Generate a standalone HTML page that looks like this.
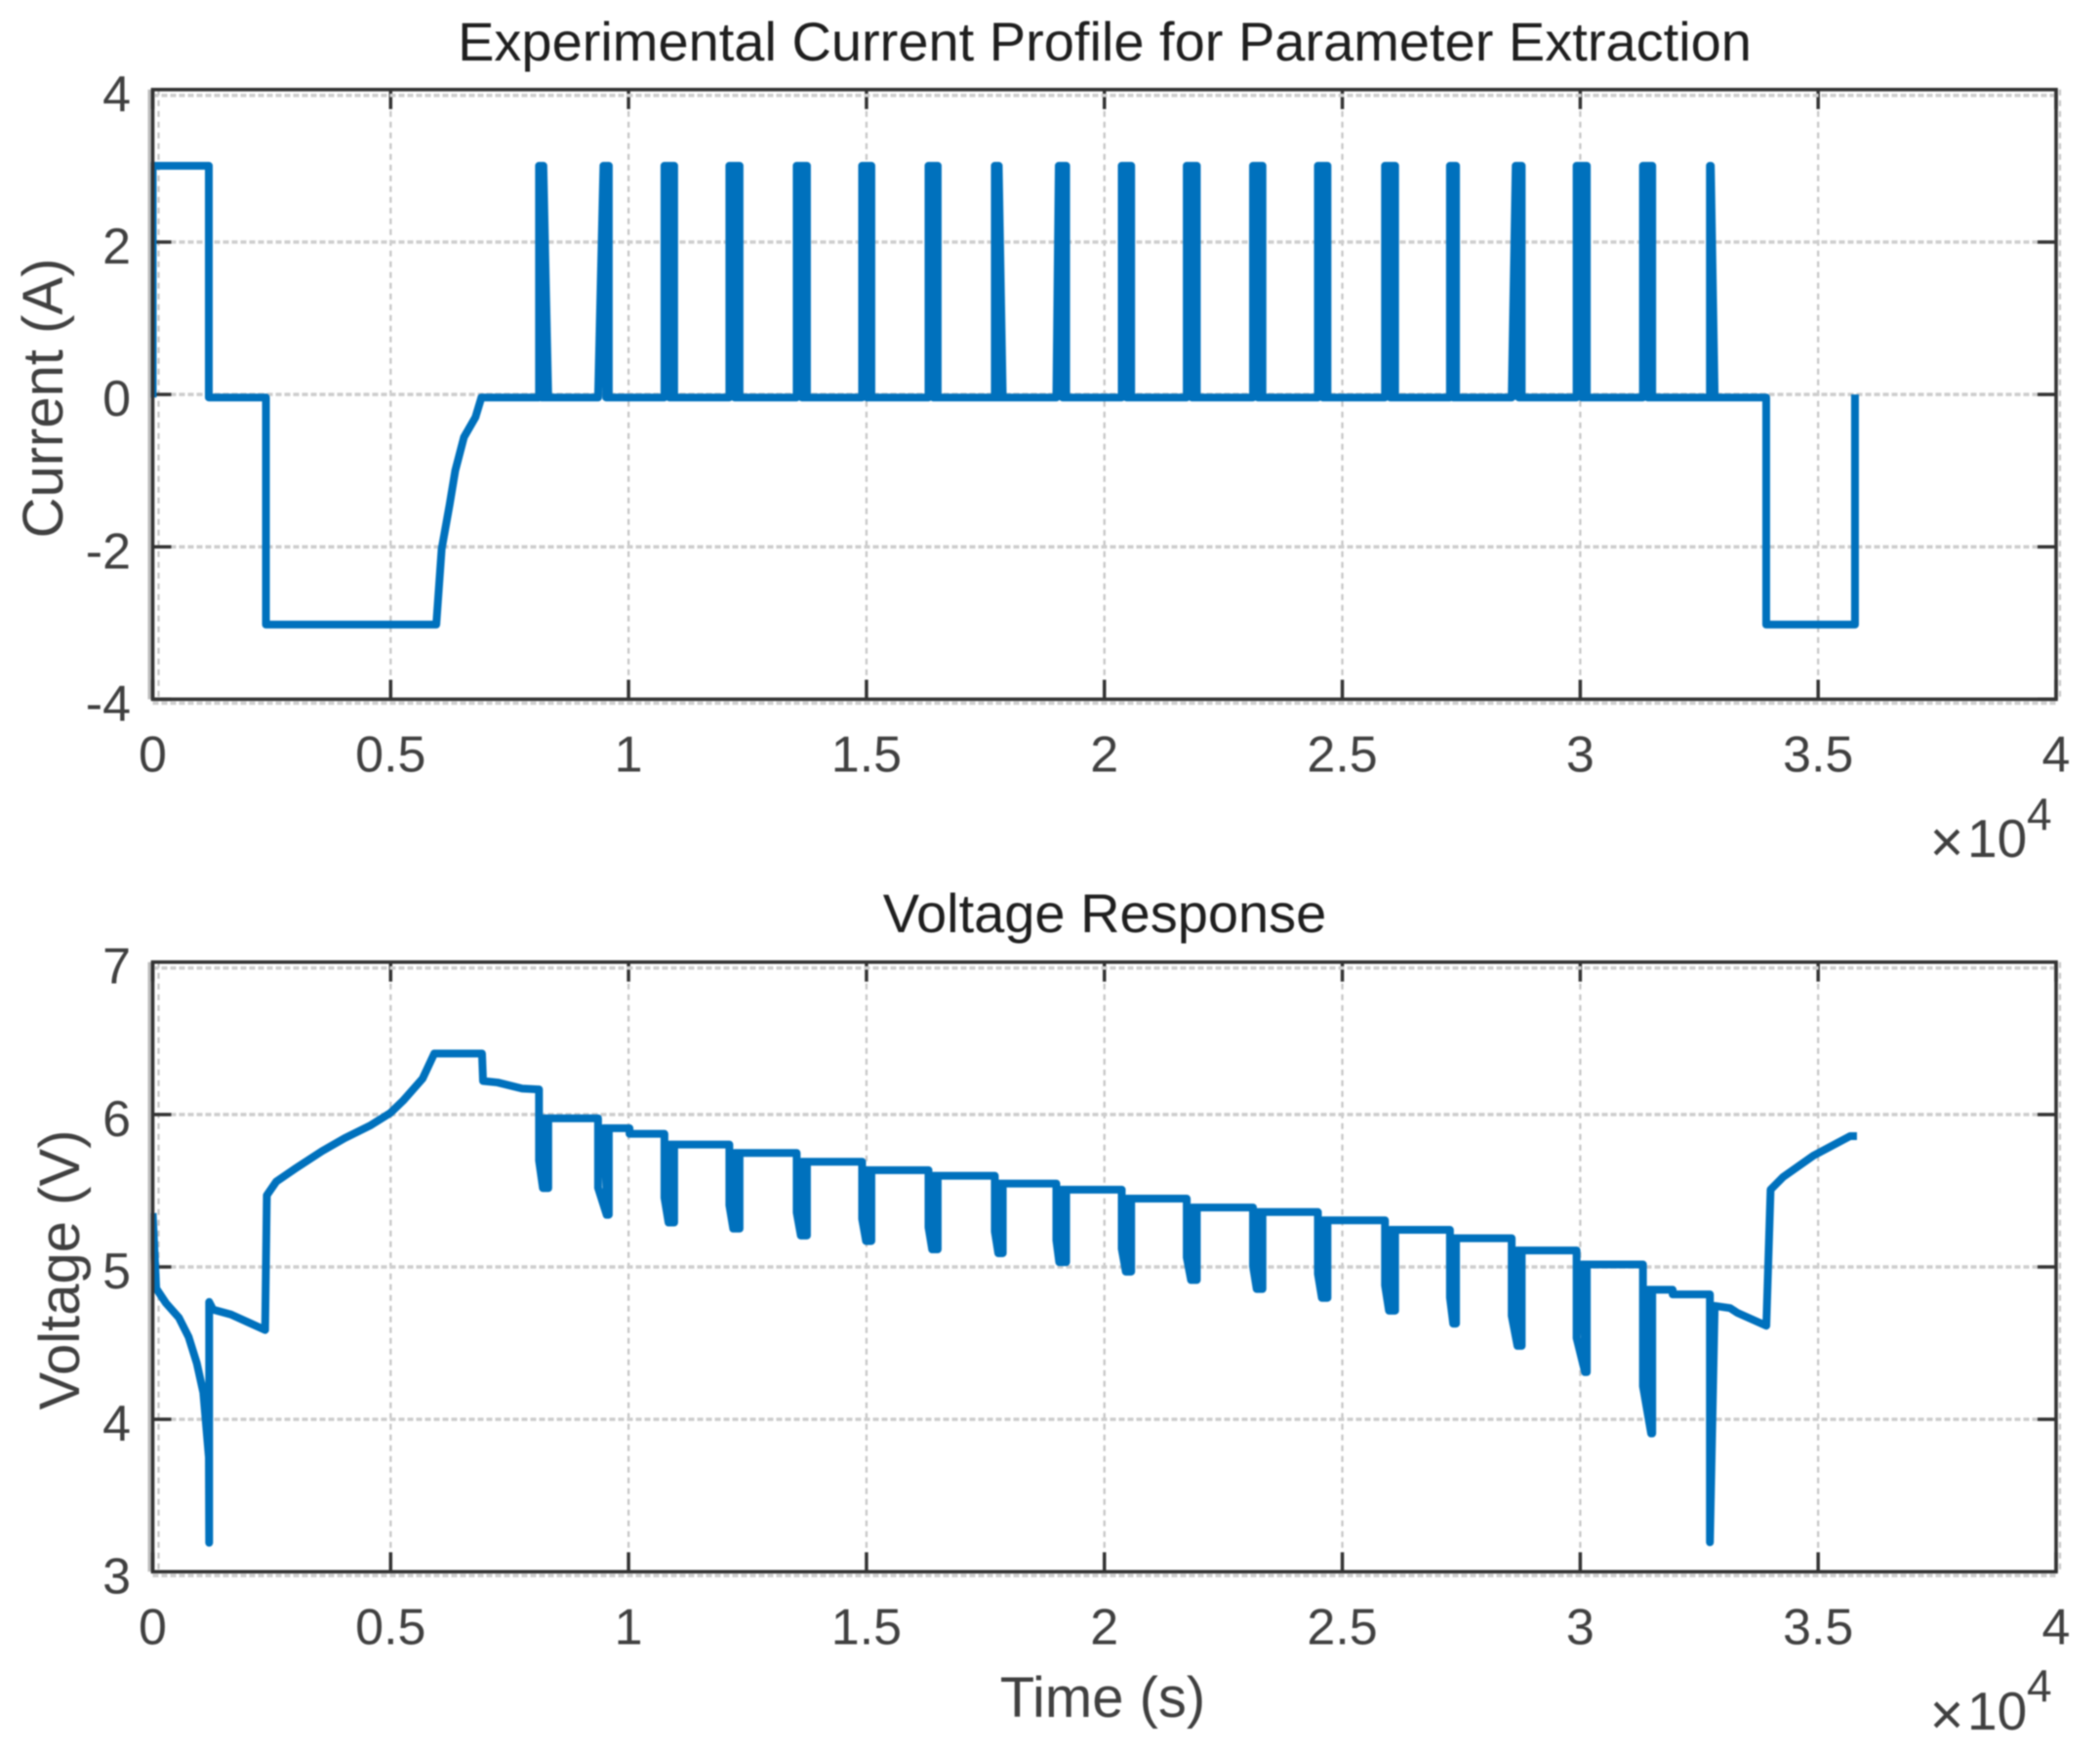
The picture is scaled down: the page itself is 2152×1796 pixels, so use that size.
<!DOCTYPE html>
<html lang="en">
<head>
<meta charset="utf-8">
<title>Experimental Current Profile and Voltage Response</title>
<style>
html,body{margin:0;padding:0;background:#fff;}
body{width:2152px;height:1796px;overflow:hidden;}
svg{display:block;filter:blur(0.8px);font-family:"Liberation Sans",Arial,sans-serif;}
.tick{font-size:52px;fill:#404040;}
.title{font-size:56px;fill:#1f1f1f;text-anchor:middle;}
.axis-title{font-size:58px;fill:#404040;text-anchor:middle;}
</style>
</head>
<body>
<svg id="chart" xmlns="http://www.w3.org/2000/svg" width="2152" height="1796" viewBox="0 0 2152 1796">
  <rect x="0" y="0" width="2152" height="1796" fill="#ffffff"/>
  <g id="current-plot"></g>
  <g id="voltage-plot"></g>
  <text class="title" x="1132" y="62">Experimental Current Profile for Parameter Extraction</text>
  <text class="title" x="1132" y="955">Voltage Response</text>
  <text class="axis-title" transform="translate(64,408) rotate(-90)">Current (A)</text>
  <text class="axis-title" transform="translate(81,1301) rotate(-90)">Voltage (V)</text>
  <text class="axis-title" x="1130" y="1759">Time (s)</text>
  <g fill="#404040">
    <text x="1995" y="883" font-size="60" text-anchor="middle">×</text>
    <text x="2016" y="878" font-size="55">10</text>
    <text x="2077" y="850" font-size="46">4</text>
  </g>
  <g fill="#404040">
    <text x="1995" y="1777" font-size="60" text-anchor="middle">×</text>
    <text x="2016" y="1772" font-size="55">10</text>
    <text x="2077" y="1743" font-size="46">4</text>
  </g>
</svg>
<script>
// ---- axis values ----
const xTicks = [0, 5000, 10000, 15000, 20000, 25000, 30000, 35000, 40000];
const xTickLabels = ['0', '0.5', '1', '1.5', '2', '2.5', '3', '3.5', '4'];
const currentTicks = [-4, -2, 0, 2, 4];
const currentTickLabels = ['-4', '-2', '0', '2', '4'];
const voltageTicks = [3, 4, 5, 6, 7];
const voltageTickLabels = ['3', '4', '5', '6', '7'];

// ---- current series (s, A) ----
const currentLeadTime = [0, 0, 1179, 1179, 2380, 2380, 5959, 6072, 6241, 6358, 6541, 6782, 6908];
const currentLeadAmps = [-0.04, 3, 3, -0.04, -0.04, -3.02, -3.02, -2.03, -1.44, -1, -0.56, -0.3, -0.04];
const burstRiseBase = [8118, 9359, 10754, 12118, 13533, 14908, 16303, 17697, 18990, 20364, 21730, 23123, 24487, 25897, 27262, 28559, 29923, 31318, 32725];
const burstRiseTop = [8118, 9472, 10754, 12118, 13533, 14908, 16303, 17697, 19041, 20364, 21730, 23123, 24487, 25897, 27262, 28643, 29923, 31318, 32725];
const burstFallTop = [8210, 9585, 10959, 12333, 13749, 15103, 16497, 17779, 19197, 20563, 21942, 23322, 24688, 26110, 27390, 28770, 30138, 31513, 32744];
const burstFallBase = [8313, 9585, 10959, 12333, 13749, 15103, 16497, 17864, 19197, 20563, 21942, 23322, 24688, 26110, 27390, 28770, 30138, 31513, 32826];
const burstPeakAmps = 3;
const burstRestAmps = -0.04;
const currentTailTime = [33908, 33908, 35774, 35774];
const currentTailAmps = [-0.04, -3.02, -3.02, 0];

// ---- voltage series (s, V) ----
const voltageLeadTime = [0, 74, 277, 550, 755, 927, 1063, 1180, 1186, 1186, 1268, 1645, 2362, 2398, 2597, 3005, 3560, 4035, 4584, 4994, 5260, 5670, 5917, 6920, 6942, 7250, 7763, 8100];
const voltageLeadVolts = [5.353, 4.859, 4.763, 4.667, 4.54, 4.368, 4.176, 3.75, 3.19, 4.77, 4.72, 4.688, 4.586, 5.47, 5.56, 5.647, 5.76, 5.845, 5.93, 6.01, 6.09, 6.235, 6.4, 6.4, 6.22, 6.21, 6.17, 6.165];
const voltageLevelAfter = [5.975, 5.91, 5.803, 5.748, 5.69, 5.635, 5.598, 5.547, 5.507, 5.448, 5.39, 5.36, 5.306, 5.243, 5.188, 5.108, 5.016, 4.85, 4.744];
const voltageBurstLow = [5.517, 5.342, 5.291, 5.251, 5.206, 5.17, 5.115, 5.09, 5.031, 4.969, 4.914, 4.855, 4.797, 4.713, 4.628, 4.482, 4.31, 3.907, 3.193];
const voltageLowStart = [8200, 9540, 10840, 12200, 13620, 14990, 16380, 17770, 19050, 20450, 21820, 23200, 24570, 25980, 27330, 28680, 30100, 31490, 32725];
const voltageLowEnd = [8313, 9585, 10959, 12333, 13749, 15103, 16497, 17864, 19197, 20563, 21942, 23322, 24688, 26110, 27390, 28770, 30138, 31513, 32725];
const voltageStepBurst = [1, 17];
const voltageStepTime = [10020, 31942];
const voltageStepVolts = [5.873, 4.82];
const voltageTailTime = [33150, 33295, 33910, 34000, 34267, 34900, 35672, 35815];
const voltageTailVolts = [4.73, 4.7, 4.614, 5.507, 5.591, 5.73, 5.858, 5.858];

// ---- layout ----
const plotLeft = 156.5, plotRight = 2107;
const xMin = 0, xMax = 40000;
const NS = 'http://www.w3.org/2000/svg';
const xScale = t => plotLeft + (t - xMin) / (xMax - xMin) * (plotRight - plotLeft);
const linearY = (min, max, top, bottom) => v => bottom - (v - min) / (max - min) * (bottom - top);

function svgEl(parent, tag, attrs) {
  const el = document.createElementNS(NS, tag);
  for (const k in attrs) el.setAttribute(k, attrs[k]);
  parent.appendChild(el);
  return el;
}

function drawAxes(g, yTicks, yLabels, yScale, top, bottom, prefix) {
  const gridV = 'stroke:#c4c4c4;stroke-width:2.2;stroke-dasharray:6 5';
  const gridH = 'stroke:#cdcdcd;stroke-width:3.5;stroke-dasharray:6 3';
  xTicks.forEach((t, i) => {
    const x = xScale(t);
    const gx = i === 0 ? x + 6 : (i === xTicks.length - 1 ? x + 4 : x);
    const grid = svgEl(g, 'line', {x1: gx, x2: gx, y1: top, y2: bottom, style: gridV});
    
    
    const tickBottom = svgEl(g, 'line', {x1: x, x2: x, y1: bottom, y2: bottom - 20, stroke: '#333', 'stroke-width': 3.5});
    
    
    const tickTop = svgEl(g, 'line', {x1: x, x2: x, y1: top, y2: top + 20, stroke: '#333', 'stroke-width': 3.5});
    
    
    const label = svgEl(g, 'text', {x: x, y: bottom + 74, class: 'tick', 'text-anchor': 'middle'});
    label.textContent = xTickLabels[i];
    
    
  });
  yTicks.forEach((v, i) => {
    const y = yScale(v);
    const gy = i === 0 ? y + 4 : (i === yTicks.length - 1 ? y + 6 : y);
    const grid = svgEl(g, 'line', {x1: plotLeft, x2: plotRight, y1: gy, y2: gy, style: gridH});
    
    
    const tickLeft = svgEl(g, 'line', {x1: plotLeft, x2: plotLeft + 19, y1: y, y2: y, stroke: '#333', 'stroke-width': 3.5});
    
    
    const tickRight = svgEl(g, 'line', {x1: plotRight, x2: plotRight - 19, y1: y, y2: y, stroke: '#333', 'stroke-width': 3.5});
    
    
    const label = svgEl(g, 'text', {x: 134, y: y + 22, class: 'tick', 'text-anchor': 'end'});
    label.textContent = yLabels[i];
    
    
  });
}

function drawFrame(g, top, bottom, prefix) {
  const shade = svgEl(g, 'line', {x1: plotLeft - 3.5, x2: plotLeft - 3.5, y1: top, y2: bottom, stroke: '#bdbdbd', 'stroke-width': 3});
  
  
  const frame = svgEl(g, 'rect', {x: plotLeft, y: top, width: plotRight - plotLeft, height: bottom - top, fill: 'none', stroke: '#333', 'stroke-width': 3.6});
  
  
}

function drawLine(g, pts, name) {
  const d = pts.map((p, i) => (i ? 'L' : 'M') + p[0].toFixed(2) + ' ' + p[1].toFixed(2)).join('');
  const path = svgEl(g, 'path', {d: d, fill: 'none', stroke: '#0071bd', 'stroke-width': 8, 'stroke-linejoin': 'round', 'stroke-linecap': 'butt'});
  
  
}

// ---- current plot ----
const currentTop = 91.8, currentBottom = 716.4;
const yCurrent = linearY(-4, 4, currentTop, currentBottom);
const currentG = document.getElementById('current-plot');
drawAxes(currentG, currentTicks, currentTickLabels, yCurrent, currentTop, currentBottom, 'current');

const currentPts = [];
currentLeadTime.forEach((t, i) => currentPts.push([xScale(t), yCurrent(currentLeadAmps[i])]));
burstRiseBase.forEach((rb, i) => {
  const mid = (burstRiseTop[i] + burstFallTop[i]) / 2;
  const rest = yCurrent(burstRestAmps), peak = yCurrent(burstPeakAmps);
  currentPts.push([xScale(rb), rest], [xScale(burstRiseTop[i]), peak], [xScale(burstFallTop[i]), peak],
    [xScale(burstFallBase[i]), rest], [xScale(mid), rest], [xScale(mid), peak], [xScale(mid), rest], [xScale(burstFallBase[i]), rest]);
});
currentTailTime.forEach((t, i) => currentPts.push([xScale(t), yCurrent(currentTailAmps[i])]));
drawLine(currentG, currentPts, 'current-series-line');
drawFrame(currentG, currentTop, currentBottom, 'current');

// ---- voltage plot ----
const voltageTop = 985.7, voltageBottom = 1610.3;
const yVoltage = linearY(3, 7, voltageTop, voltageBottom);
const voltageG = document.getElementById('voltage-plot');
drawAxes(voltageG, voltageTicks, voltageTickLabels, yVoltage, voltageTop, voltageBottom, 'voltage');

const voltagePts = [];
voltageLeadTime.forEach((t, i) => voltagePts.push([xScale(t), yVoltage(voltageLeadVolts[i])]));
let prevLevel = voltageLeadVolts[voltageLeadVolts.length - 1];
voltageLevelAfter.forEach((level, i) => {
  const low = voltageBurstLow[i];
  const L = burstRiseBase[i], R = burstFallBase[i];
  const drop = prevLevel - low;
  const mTop = (L + R) / 2;
  const mLow = (voltageLowStart[i] + voltageLowEnd[i]) / 2;
  voltagePts.push(
    [xScale(L), yVoltage(prevLevel)],
    [xScale(L), yVoltage(prevLevel - 0.72 * drop)],
    [xScale(voltageLowStart[i]), yVoltage(low)],
    [xScale(voltageLowEnd[i]), yVoltage(low)],
    [xScale(R), yVoltage(level)],
    [xScale(mTop), yVoltage(level)],
    [xScale(mLow), yVoltage(low)],
    [xScale(R), yVoltage(level)]
  );
  prevLevel = level;
  const stepIdx = voltageStepBurst.indexOf(i);
  if (stepIdx >= 0) {
    voltagePts.push([xScale(voltageStepTime[stepIdx]), yVoltage(level)]);
    voltagePts.push([xScale(voltageStepTime[stepIdx]), yVoltage(voltageStepVolts[stepIdx])]);
    prevLevel = voltageStepVolts[stepIdx];
  }
});
voltageTailTime.forEach((t, i) => voltagePts.push([xScale(t), yVoltage(voltageTailVolts[i])]));
drawLine(voltageG, voltagePts, 'voltage-series-line');
drawFrame(voltageG, voltageTop, voltageBottom, 'voltage');
</script>
</body>
</html>
